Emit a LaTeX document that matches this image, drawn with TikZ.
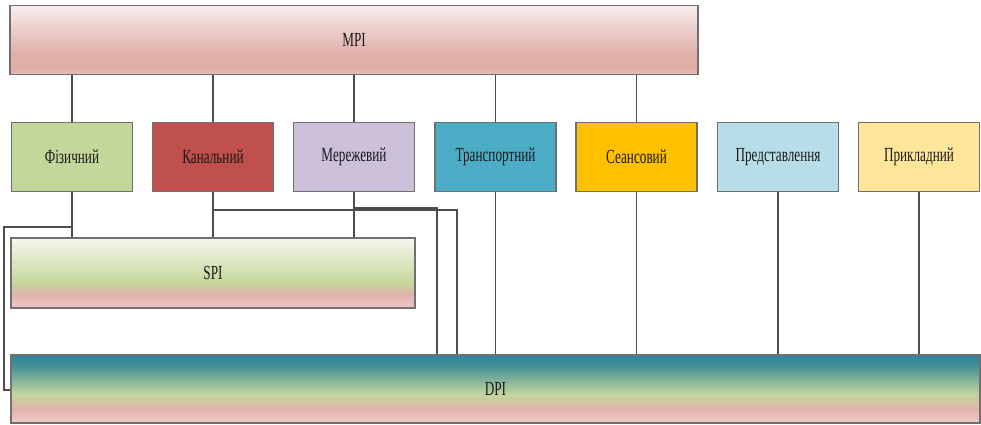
\documentclass[tikz,border=0pt]{standalone}
\usepackage{fontspec}
\setmainfont{Liberation Serif}[FakeStretch=0.66]
\definecolor{bordc}{HTML}{707070}
\definecolor{linec}{HTML}{4D4D4D}
\definecolor{txtc}{HTML}{1A1A1A}
\definecolor{cfiz}{HTML}{C4D79B}
\definecolor{ckan}{HTML}{C0504D}
\definecolor{cmer}{HTML}{CCC0DA}
\definecolor{ctra}{HTML}{4BACC6}
\definecolor{csea}{HTML}{FFC000}
\definecolor{cpre}{HTML}{B7DEE8}
\definecolor{cpry}{HTML}{FFE699}
\definecolor{mA}{HTML}{E8C0BB}
\definecolor{mB}{HTML}{E0ACA6}
\definecolor{mC}{HTML}{E1AFA9}
\definecolor{mD}{HTML}{F7EDEC}
\definecolor{sA}{HTML}{EDC7C4}
\definecolor{sB}{HTML}{E4B2AE}
\definecolor{sC}{HTML}{C4D79B}
\definecolor{sD}{HTML}{F8F6F0}
\definecolor{dA}{HTML}{EFCBC8}
\definecolor{dB}{HTML}{E4B2AE}
\definecolor{dC}{HTML}{C3D69B}
\definecolor{dD}{HTML}{3F8E98}
\definecolor{dE}{HTML}{31859C}
\pgfdeclareverticalshading{mpishade}{100bp}{color(0bp)=(mA); color(25bp)=(mA); color(29bp)=(mB); color(40bp)=(mC); color(75bp)=(mD); color(100bp)=(mD)}
\pgfdeclareverticalshading{spishade}{100bp}{color(0bp)=(sA); color(25bp)=(sA); color(35bp)=(sB); color(43bp)=(sC); color(75bp)=(sD); color(100bp)=(sD)}
\pgfdeclareverticalshading{dpishade}{100bp}{color(0bp)=(dA); color(25bp)=(dA); color(35bp)=(dB); color(46bp)=(dC); color(68bp)=(dD); color(75bp)=(dE); color(100bp)=(dE)}
\begin{document}
\begin{tikzpicture}[x=1pt,y=-1pt,
  lbl/.style={font=\fontsize{20}{22}\selectfont, text=txtc},
  layerbox/.style={lbl, draw=bordc, line width=1.4pt, rectangle, minimum width=121pt, minimum height=69pt, inner sep=0pt},
  bigbox/.style={lbl, draw=bordc, line width=1.4pt, rectangle, inner sep=0pt},
  conn/.style={draw=linec, line width=1.2pt}]
\useasboundingbox (0,0) rectangle (981,425);
\node[bigbox, shading=mpishade, minimum width=688pt, minimum height=69pt] (mpi) at (354,40) {MPI};
\node[layerbox, fill=cfiz] (fiz) at (72,157) {Фізичний};
\node[layerbox, fill=ckan] (kan) at (213,157) {Канальний};
\node[layerbox, fill=cmer] (mer) at (354,157) {Мережевий};
\node[layerbox, fill=ctra] (tra) at (495.5,157) {Транспортний};
\node[layerbox, fill=csea] (sea) at (636.5,157) {Сеансовий};
\node[layerbox, fill=cpre] (pre) at (778,157) {Представлення};
\node[layerbox, fill=cpry] (pry) at (919,157) {Прикладний};
\node[bigbox, shading=spishade, minimum width=404pt, minimum height=70pt] (spi) at (213,273) {SPI};
\node[bigbox, shading=dpishade, minimum width=969pt, minimum height=68pt] (dpi) at (495.5,389) {DPI};
% MPI to upper layers
\foreach \n in {fiz,kan,mer,tra,sea}
  \draw[conn] (\n.north) -- (\n.north |- mpi.south);
% layers to SPI
\foreach \n in {fiz,kan,mer}
  \draw[conn] (\n.south) -- (\n.south |- spi.north);
% layers to DPI
\foreach \n in {tra,sea,pre,pry}
  \draw[conn] (\n.south) -- (\n.south |- dpi.north);
% routed connectors
\coordinate (fj) at (72,227);
\coordinate (fl) at (4,390);
\draw[conn] (fj) -| (fl) -- (fl -| dpi.west);
\coordinate (kj) at (213,210);
\coordinate (kr) at (457,300);
\draw[conn] (kj) -| (kr |- dpi.north);
\coordinate (mj) at (354,208);
\coordinate (mr) at (437,300);
\draw[conn] (mj) -| (mr |- dpi.north);
\end{tikzpicture}
\end{document}
